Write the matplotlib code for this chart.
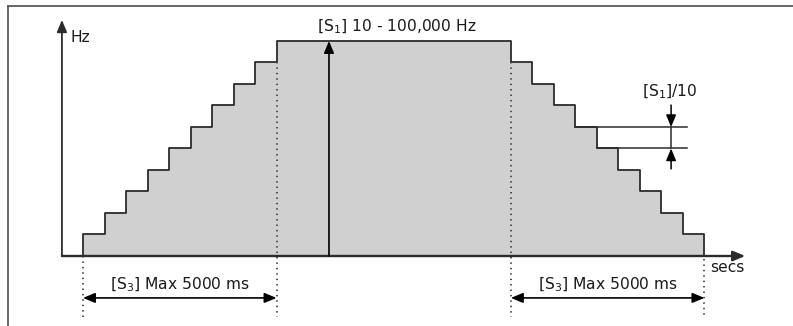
import matplotlib.pyplot as plt
import numpy as np

# staircase ramp: times (in step units) where the output level changes
up_edges = [0, 1, 2, 3, 4, 5, 6, 7, 8, 9]
down_edges = [19.9, 20.9, 21.9, 22.9, 23.9, 24.9, 25.9, 26.9, 27.9, 28.9]
up_levels = [1, 2, 3, 4, 5, 6, 7, 8, 9, 10]
down_levels = [9, 8, 7, 6, 5, 4, 3, 2, 1, 0]

top_label = r"[S$_\mathregular{1}$] 10 - 100,000 Hz"
step_label = r"[S$_\mathregular{1}$]/10"
ramp_label = r"[S$_\mathregular{3}$] Max 5000 ms"

LINE = "#2b2b2b"
FILL = "#d0d0d0"
DOT = "#444444"
TXT = "#1a1a1a"

plt.rcParams["font.family"] = ["DejaVu Sans"]
plt.rcParams["font.size"] = 11.2

edges = np.array(up_edges + down_edges)
levels = np.array(up_levels + down_levels)
t = np.concatenate([[0], edges])
lv = np.concatenate([[0], levels])

fig = plt.figure(figsize=(7.93, 3.26), dpi=100)
ax = fig.add_axes([0, 0, 1, 1])
ax.set_xlim(-3.86, 33.02)
ax.set_ylim(-3.256, 11.907)
ax.axis("off")

# frame (only top and left are visible in the crop)
ax.plot([0.0107, 0.0107], [0, 0.983], transform=ax.transAxes, color="#5a5a5a", lw=1.3, clip_on=False)
ax.plot([0.0107, 1.0], [0.983, 0.983], transform=ax.transAxes, color="#5a5a5a", lw=1.3, clip_on=False)

ax.fill_between(t, lv, 0, step="post", color=FILL, lw=0)
ax.step(t, lv, where="post", color=LINE, lw=1.3)

head = "-|>,head_length=0.6,head_width=0.25"
arrow = dict(arrowstyle=head, color="black", lw=1.2, shrinkA=0, shrinkB=0, mutation_scale=12)
dbl = dict(arrowstyle="<|-|>,head_length=0.6,head_width=0.25", color="black", lw=1.2,
           shrinkA=0, shrinkB=0, mutation_scale=12)

# axes
ax.annotate("", xy=(30.8, 0), xytext=(-0.98, 0), arrowprops=dict(arrow, color=LINE, lw=1.7))
ax.annotate("", xy=(-0.98, 10.98), xytext=(-0.98, 0), arrowprops=dict(arrow, color=LINE, lw=1.3))
ax.text(-0.6, 10.14, "Hz", ha="left", va="center", color=TXT)
ax.text(29.15, -0.55, "secs", ha="left", va="center", color=TXT)

# max frequency marker
top = max(levels)
hold_start, hold_end = up_edges[-1], down_edges[0]
ax.annotate("", xy=(11.44, top), xytext=(11.44, 0), arrowprops=arrow)
ax.text(14.6, top + 0.65, top_label, ha="center", va="center", color=TXT)

# dotted guides
bottom = -2.84
for x0, y0 in [(up_edges[0], 0), (hold_start, top - 1), (hold_end, top - 1), (down_edges[-1], -0.15)]:
    ax.plot([x0, x0], [y0, bottom], color=DOT, lw=1.3, linestyle=(0, (0.8, 2.2)))

# ramp duration arrows
for a, b in [(up_edges[0], hold_start), (hold_end, down_edges[-1])]:
    ax.annotate("", xy=(a, -1.95), xytext=(b, -1.95), arrowprops=dbl)
    ax.text((a + b) / 2, -1.35, ramp_label, ha="center", va="center", color=TXT)

# step size marker
i_hi = down_levels.index(6)
ext_end = 28.1
ax.plot([down_edges[i_hi], ext_end], [6, 6], color=LINE, lw=1.1)
ax.plot([down_edges[i_hi + 1], ext_end], [5, 5], color=LINE, lw=1.1)
mx = 27.35
ax.annotate("", xy=(mx, 6), xytext=(mx, 7.02), arrowprops=dict(arrow, lw=1.1))
ax.annotate("", xy=(mx, 5), xytext=(mx, 4.05), arrowprops=dict(arrow, lw=1.1))
ax.plot([mx, mx], [5, 6], color=LINE, lw=1.1)
ax.text(mx - 0.05, 7.63, step_label, ha="center", va="center", color=TXT)

fig.savefig("out.png", dpi=100)
